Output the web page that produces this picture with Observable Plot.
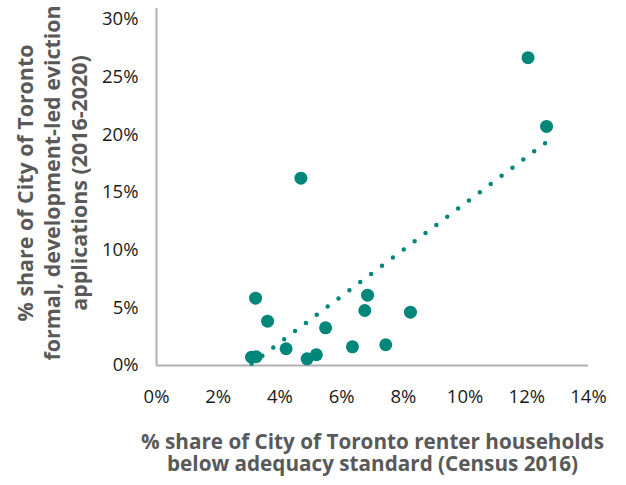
<!DOCTYPE html>
<html><head><meta charset="utf-8">
<script src="https://cdn.jsdelivr.net/npm/d3@7"></script>
<script src="https://cdn.jsdelivr.net/npm/@observablehq/plot@0.6"></script>
<style>body{margin:0;background:#fff}</style>
</head><body><div id="chart"></div>
<script>
// % share of renter households below adequacy standard (x) per ward
const renterBelowStandard = [12.04, 12.64, 4.68, 3.21, 3.60, 6.84, 6.75, 8.23, 5.48, 4.20, 6.35, 7.43, 3.08, 3.23, 4.88, 5.18];
// % share of development-led eviction applications (y) per ward
const evictionShare = [26.69, 20.73, 16.24, 5.84, 3.84, 6.10, 4.77, 4.62, 3.27, 1.45, 1.62, 1.80, 0.72, 0.76, 0.58, 0.93];
const xTicks = [0, 2, 4, 6, 8, 10, 12, 14];
const yTicks = [0, 5, 10, 15, 20, 25, 30];
const xTitleLines = ["% share of City of Toronto renter households", "below adequacy standard (Census 2016)"];
const yTitle = "% share of City of Toronto\nformal, development-led eviction\napplications (2016-2020)";

const data = renterBelowStandard.map((x, i) => ({x, y: evictionShare[i]}));
const teal = "#00877A";
const titleFont = "'Open Sans', sans-serif";
const titleStyle = {fontWeight: "bold", fill: "#595959", fontFamily: titleFont};

const chart = Plot.plot({
  width: 626, height: 485,
  marginLeft: 156, marginRight: 38, marginTop: 19, marginBottom: 120,
  style: {fontFamily: "'Open Sans', sans-serif", fontSize: "18.5px", color: "#1a1a1a", background: "#fff"},
  x: {domain: [0, 14], ticks: xTicks, tickFormat: d => d + "%", label: null, tickSize: 0, tickPadding: 24},
  y: {domain: [0, 30], ticks: yTicks, tickFormat: d => d + "%", label: null, tickSize: 0, tickPadding: 18},
  marks: [
    Plot.ruleY([0], {stroke: "#b0b0b0", strokeWidth: 2}),
    Plot.ruleX([0], {stroke: "#b0b0b0", strokeWidth: 2, insetTop: -11}),
    Plot.linearRegressionY(data, {x: "x", y: "y", ci: 0, stroke: teal, strokeWidth: 4.5, strokeDasharray: "0,13.6", strokeLinecap: "round"}),
    Plot.dot(data, {x: "x", y: "y", r: 6.5, fill: teal}),
    Plot.text([xTitleLines[0]], {frameAnchor: "bottom", textAnchor: "middle", lineAnchor: "middle", dy: 77, fontSize: 20.7, ...titleStyle}),
    Plot.text([xTitleLines[1]], {frameAnchor: "bottom", textAnchor: "middle", lineAnchor: "middle", dy: 99, fontSize: 20.7, ...titleStyle}),
    Plot.text([yTitle], {frameAnchor: "left", textAnchor: "middle", lineAnchor: "middle", rotate: -90, dx: -105, dy: -9.5, lineHeight: 1.26, fontSize: 21.4, ...titleStyle})
  ]
});
document.getElementById("chart").appendChild(chart);
</script>
</body></html>
